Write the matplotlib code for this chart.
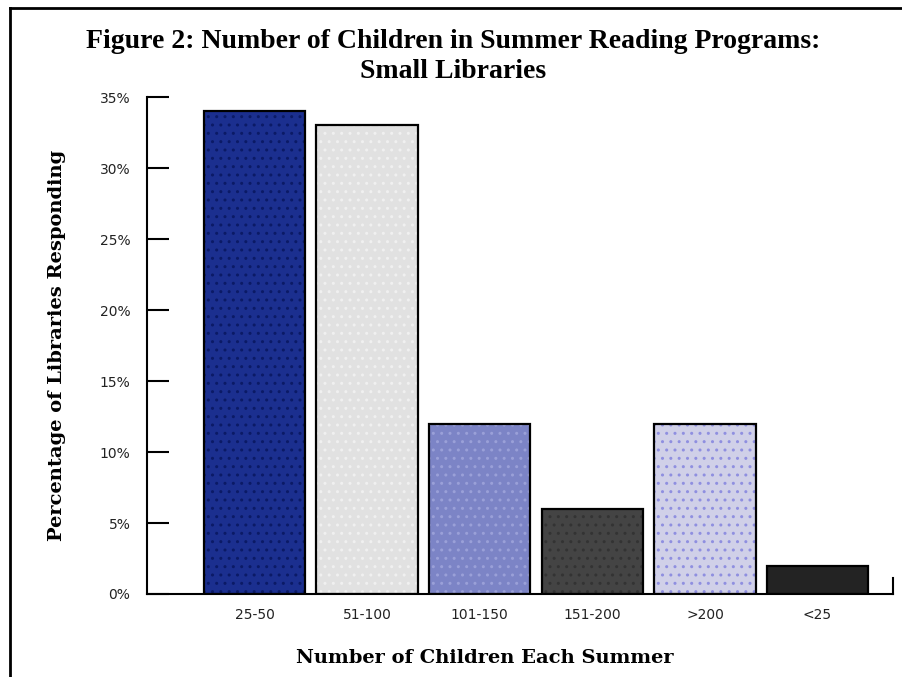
import matplotlib
matplotlib.use("Agg")
import matplotlib.pyplot as plt
from matplotlib.lines import Line2D

categories = ["25-50", "51-100", "101-150", "151-200", ">200", "<25"]
percentages = [34, 33, 12, 6, 12, 2]
y_ticks = [0, 5, 10, 15, 20, 25, 30, 35]

fill_colors = ["#1b2f8f", "#e1e1e1", "#7c84c6", "#444444", "#d0d0e8", "#232323"]
dot_colors = ["#0b1a66", "#f0f0f0", "#9aa0d8", "#333333", "#8f8fe0", "#232323"]

fig = plt.figure(figsize=(9.02, 6.77), dpi=100)
ax = fig.add_axes([0.163, 0.1226, 0.827, 0.7341])

x = range(len(categories))
# textured fill, then a black outline on top
ax.bar(x, percentages, width=0.9, color=fill_colors, edgecolor=dot_colors,
       hatch="..", linewidth=0, zorder=2)
ax.bar(x, percentages, width=0.9, fill=False, edgecolor="black",
       linewidth=1.6, zorder=3)

ax.set_xlim(-0.955, 5.67)
ax.set_ylim(0, 35)
ax.set_yticks(y_ticks)
ax.set_yticklabels([f"{v}%" for v in y_ticks])
ax.set_xticks(list(x))
ax.set_xticklabels(categories)

for side in ["top", "right"]:
    ax.spines[side].set_visible(False)
ax.spines["left"].set_linewidth(1.5)
ax.spines["bottom"].set_linewidth(1.5)
ax.tick_params(axis="y", direction="in", length=16, width=1.5, pad=12,
               labelsize=10)
ax.tick_params(axis="x", length=0, pad=10, labelsize=10)
for lab in ax.get_xticklabels() + ax.get_yticklabels():
    lab.set_fontfamily("DejaVu Sans")
    lab.set_color("#222222")

# small end mark on the right of the x axis
ax.plot([1, 1], [0, 0.032], transform=ax.transAxes, color="black",
        linewidth=1.5, clip_on=False)

ax.set_ylabel("Percentage of Libraries Responding", family="DejaVu Serif",
              fontweight="bold", fontsize=14, labelpad=24)
ax.set_xlabel("Number of Children Each Summer", family="DejaVu Serif",
              fontweight="bold", fontsize=14)
ax.xaxis.set_label_coords(0.453, -0.11)

title_font = dict(ha="center", va="center", family="Liberation Serif",
                  fontweight="bold", fontsize=20)
fig.text(0.502, 0.938, "Figure 2: Number of Children in Summer Reading Programs:",
         **title_font)
fig.text(0.502, 0.894, "Small Libraries", **title_font)

# frame lines at top and left of the picture
fig.add_artist(Line2D([0.011, 1.0], [0.988, 0.988], color="black", linewidth=2))
fig.add_artist(Line2D([0.011, 0.011], [0.0, 0.988], color="black", linewidth=2))

fig.savefig("out.png", dpi=100)
